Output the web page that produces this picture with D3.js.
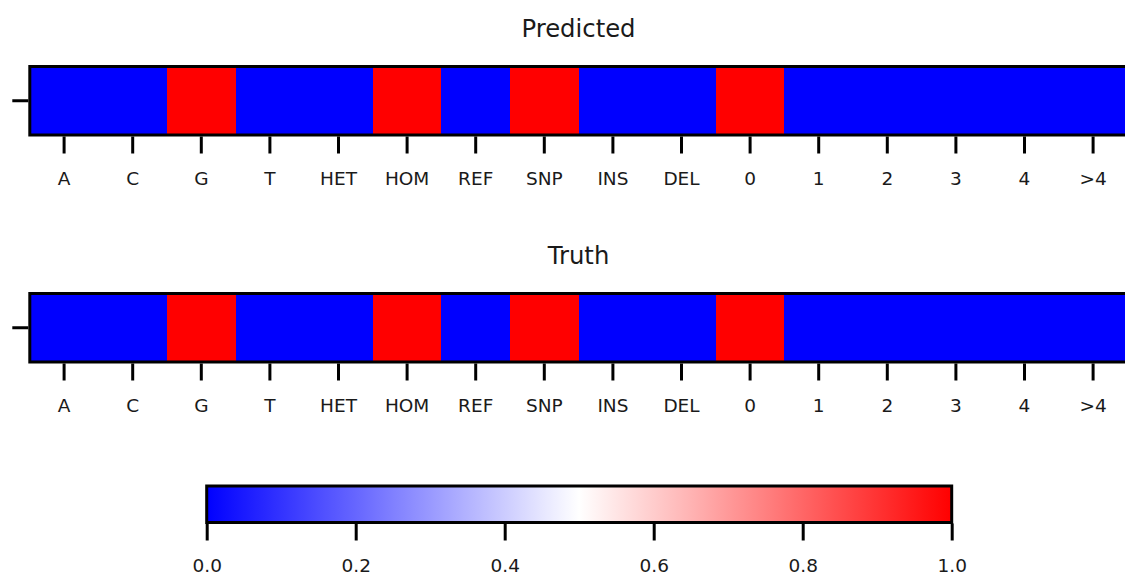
<!DOCTYPE html>
<html>
<head>
<meta charset="utf-8">
<script src="https://cdn.jsdelivr.net/npm/d3@7/dist/d3.min.js"></script>
<style>
  html, body { margin: 0; padding: 0; background: #ffffff; }
  svg { display: block; font-family: "DejaVu Sans", sans-serif; }
</style>
</head>
<body>
<svg id="chart" width="1125" height="579"></svg>
<script>
// Feature categories along the x axis
const categories = ["A", "C", "G", "T", "HET", "HOM", "REF", "SNP", "INS", "DEL", "0", "1", "2", "3", "4", ">4"];
// One-hot encodings for each panel
const predictedValues = [0, 0, 1, 0, 0, 1, 0, 1, 0, 0, 1, 0, 0, 0, 0, 0];
const truthValues     = [0, 0, 1, 0, 0, 1, 0, 1, 0, 0, 1, 0, 0, 0, 0, 0];
const panelTitles = ["Predicted", "Truth"];
const colorbarTicks = [0.0, 0.2, 0.4, 0.6, 0.8, 1.0];

const svg = d3.select("#chart");
const ink = "#1a1a1a";

// bwr diverging colour map
const color = d3.scaleLinear()
  .domain([0, 0.5, 1])
  .range(["#0000ff", "#ffffff", "#ff0000"])
  .interpolate(d3.interpolateRgb);

const cellW = 68.6;
const left = 29.8;
const x = d3.scaleBand()
  .domain(categories)
  .range([left, left + cellW * categories.length])
  .paddingInner(0).paddingOuter(0);

function drawPanel(values, title, top) {
  const h = 68.5;
  const g = svg.append("g");
  g.append("text")
    .attr("x", 578.5).attr("y", top - 30)
    .attr("text-anchor", "middle")
    .attr("font-size", 24.3)
    .attr("fill", ink)
    .text(title);

  g.selectAll("rect.cell")
    .data(values)
    .join("rect")
    .attr("class", "cell")
    .attr("x", (d, i) => x(categories[i]))
    .attr("y", top)
    .attr("width", x.bandwidth() + 0.6)
    .attr("height", h)
    .attr("shape-rendering", "crispEdges")
    .attr("fill", d => color(d));

  // frame
  g.append("rect")
    .attr("x", x.range()[0]).attr("y", top)
    .attr("width", x.range()[1] - x.range()[0]).attr("height", h)
    .attr("fill", "none").attr("stroke", "#000").attr("stroke-width", 3);

  // x axis
  const xAxis = d3.axisBottom(x).tickSize(17).tickSizeOuter(0).tickPadding(18);
  const ax = g.append("g").attr("transform", `translate(0,${top + h + 1.5})`).call(xAxis);
  ax.select(".domain").remove();
  ax.selectAll(".tick line").attr("stroke", "#000").attr("stroke-width", 3);
  ax.selectAll(".tick text").attr("font-size", 18.5).attr("fill", ink)
    .attr("font-family", "DejaVu Sans, sans-serif");

  // y axis: single unlabeled tick
  const y = d3.scaleBand().domain(["row"]).range([top, top + h]);
  const yAxis = d3.axisLeft(y).tickSize(16).tickSizeOuter(0).tickFormat("");
  const ay = g.append("g").attr("transform", `translate(${left - 1.5},0)`).call(yAxis);
  ay.select(".domain").remove();
  ay.selectAll(".tick line").attr("stroke", "#000").attr("stroke-width", 3);
}

drawPanel(predictedValues, panelTitles[0], 66.5);
drawPanel(truthValues, panelTitles[1], 293.5);

// colour bar
const cbX0 = 206.7, cbX1 = 951.7, cbTop = 486, cbH = 36.5;
const cbScale = d3.scaleLinear().domain([0, 1]).range([cbX0, cbX1]);
const defs = svg.append("defs");
const grad = defs.append("linearGradient").attr("id", "bwr")
  .attr("x1", "0%").attr("x2", "100%").attr("y1", "0%").attr("y2", "0%");
d3.range(0, 1.0001, 0.05).forEach(t => {
  grad.append("stop").attr("offset", `${t * 100}%`).attr("stop-color", color(t));
});
svg.append("rect")
  .attr("x", cbX0).attr("y", cbTop)
  .attr("width", cbX1 - cbX0).attr("height", cbH)
  .attr("fill", "url(#bwr)")
  .attr("stroke", "#000").attr("stroke-width", 3);

const cbAxis = d3.axisBottom(cbScale).tickValues(colorbarTicks)
  .tickFormat(d3.format(".1f")).tickSize(17).tickSizeOuter(0).tickPadding(18);
const cba = svg.append("g").attr("transform", `translate(0,${cbTop + cbH + 1})`).call(cbAxis);
cba.select(".domain").remove();
cba.selectAll(".tick line").attr("stroke", "#000").attr("stroke-width", 3);
cba.selectAll(".tick text").attr("font-size", 18.5).attr("fill", ink)
  .attr("font-family", "DejaVu Sans, sans-serif");
</script>
</body>
</html>
